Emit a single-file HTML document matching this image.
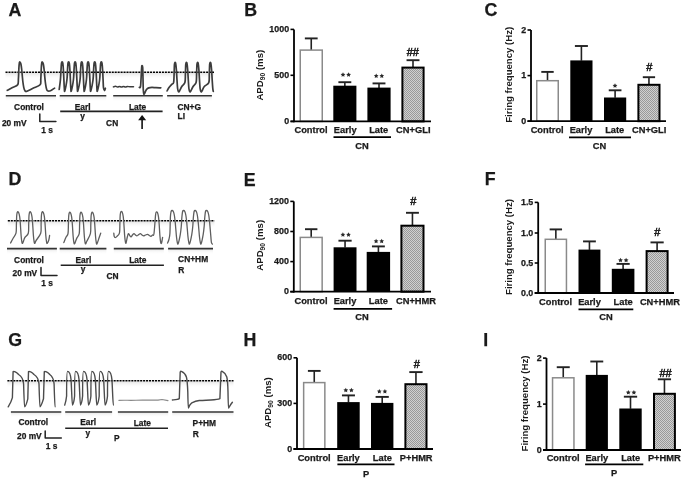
<!DOCTYPE html>
<html><head><meta charset="utf-8"><style>
html,body{margin:0;padding:0;background:#fff;width:685px;height:482px;overflow:hidden}
svg{display:block;font-family:"Liberation Sans", sans-serif;filter:blur(0.4px)}
</style></head><body>
<svg width="685" height="482" viewBox="0 0 685 482">
<defs>
<pattern id="hatch" width="2" height="2" patternUnits="userSpaceOnUse">
<rect width="2" height="2" fill="#d0d0d0"/><rect width="1" height="1" fill="#999"/><rect x="1" y="1" width="1" height="1" fill="#999"/>
</pattern>
<linearGradient id="shd" x1="0" y1="0" x2="0" y2="1"><stop offset="0" stop-color="#e4e4e4"/><stop offset="1" stop-color="#fff" stop-opacity="0"/></linearGradient>
</defs>
<rect width="685" height="482" fill="#fff"/>
<text x="8.6" y="15.8" font-size="17.8" text-anchor="start" font-weight="bold" fill="#1a1a1a"  stroke="#1a1a1a" stroke-width="0.25">A</text>
<text x="244.3" y="15.8" font-size="17.8" text-anchor="start" font-weight="bold" fill="#1a1a1a"  stroke="#1a1a1a" stroke-width="0.25">B</text>
<text x="484.6" y="15.6" font-size="17.8" text-anchor="start" font-weight="bold" fill="#1a1a1a"  stroke="#1a1a1a" stroke-width="0.25">C</text>
<text x="8.4" y="185.2" font-size="17.8" text-anchor="start" font-weight="bold" fill="#1a1a1a"  stroke="#1a1a1a" stroke-width="0.25">D</text>
<text x="243.8" y="186.2" font-size="17.8" text-anchor="start" font-weight="bold" fill="#1a1a1a"  stroke="#1a1a1a" stroke-width="0.25">E</text>
<text x="484.8" y="184.9" font-size="17.8" text-anchor="start" font-weight="bold" fill="#1a1a1a"  stroke="#1a1a1a" stroke-width="0.25">F</text>
<text x="8.2" y="346.2" font-size="17.8" text-anchor="start" font-weight="bold" fill="#1a1a1a"  stroke="#1a1a1a" stroke-width="0.25">G</text>
<text x="243.6" y="346.3" font-size="17.8" text-anchor="start" font-weight="bold" fill="#1a1a1a"  stroke="#1a1a1a" stroke-width="0.25">H</text>
<text x="483.3" y="346.1" font-size="17.8" text-anchor="start" font-weight="bold" fill="#1a1a1a"  stroke="#1a1a1a" stroke-width="0.25">I</text>
<line x1="311.25" y1="50.1" x2="311.25" y2="38.4" stroke="#222" stroke-width="1.6" />
<line x1="304.85" y1="38.4" x2="317.65" y2="38.4" stroke="#222" stroke-width="1.9" />
<rect x="300.25" y="50.1" width="22" height="71.3" fill="#fff" stroke="#8a8a8a" stroke-width="1.5"/>
<line x1="344.85" y1="86" x2="344.85" y2="82.2" stroke="#222" stroke-width="1.6" />
<line x1="338.4" y1="82.2" x2="351.3" y2="82.2" stroke="#222" stroke-width="1.9" />
<rect x="333.3" y="85.7" width="23.1" height="35.7" fill="#000"/>
<line x1="379" y1="87.9" x2="379" y2="83.4" stroke="#222" stroke-width="1.6" />
<line x1="372.55" y1="83.4" x2="385.45" y2="83.4" stroke="#222" stroke-width="1.9" />
<rect x="367.4" y="87.6" width="23.2" height="33.8" fill="#000"/>
<line x1="413" y1="67.6" x2="413" y2="60.2" stroke="#222" stroke-width="1.6" />
<line x1="406.55" y1="60.2" x2="419.45" y2="60.2" stroke="#222" stroke-width="1.9" />
<rect x="402.4" y="67.6" width="21.2" height="53.8" fill="url(#hatch)" stroke="#000" stroke-width="2"/>
<line x1="294" y1="29.4" x2="294" y2="122.3" stroke="#000" stroke-width="1.8" />
<line x1="290.5" y1="121.4" x2="431" y2="121.4" stroke="#000" stroke-width="1.8" />
<line x1="290.5" y1="29.4" x2="294" y2="29.4" stroke="#000" stroke-width="1.6" />
<text x="289.1" y="32" font-size="8.9" text-anchor="end" font-weight="bold" fill="#1a1a1a"  stroke="#1a1a1a" stroke-width="0.25">1000</text>
<line x1="290.5" y1="75.3" x2="294" y2="75.3" stroke="#000" stroke-width="1.6" />
<text x="289.1" y="77.9" font-size="8.9" text-anchor="end" font-weight="bold" fill="#1a1a1a"  stroke="#1a1a1a" stroke-width="0.25">500</text>
<line x1="290.5" y1="121.4" x2="294" y2="121.4" stroke="#000" stroke-width="1.6" />
<text x="289.1" y="124" font-size="8.9" text-anchor="end" font-weight="bold" fill="#1a1a1a"  stroke="#1a1a1a" stroke-width="0.25">0</text>
<text x="311" y="133.4" font-size="9.3" text-anchor="middle" font-weight="bold" fill="#1a1a1a"  stroke="#1a1a1a" stroke-width="0.25">Control</text>
<text x="345.2" y="133.4" font-size="9.3" text-anchor="middle" font-weight="bold" fill="#1a1a1a"  stroke="#1a1a1a" stroke-width="0.25">Early</text>
<text x="378.7" y="133.4" font-size="9.3" text-anchor="middle" font-weight="bold" fill="#1a1a1a"  stroke="#1a1a1a" stroke-width="0.25">Late</text>
<text x="413.3" y="133.4" font-size="9.3" text-anchor="middle" font-weight="bold" fill="#1a1a1a"  stroke="#1a1a1a" stroke-width="0.25">CN+GLI</text>
<line x1="333.5" y1="137.2" x2="391" y2="137.2" stroke="#000" stroke-width="1.7" />
<text x="362" y="149.3" font-size="9.3" text-anchor="middle" font-weight="bold" fill="#1a1a1a"  stroke="#1a1a1a" stroke-width="0.25">CN</text>
<text transform="translate(259.4,75.2) rotate(-90)" x="0" y="3.2" font-size="9.6" text-anchor="middle" font-weight="bold" fill="#1a1a1a">APD<tspan font-size="6.8" dy="2">90</tspan><tspan dy="-2"> (ms)</tspan></text>
<polygon points="343,72.3 343.73,73.79 345.38,74.03 344.19,75.19 344.47,76.82 343,76.05 341.53,76.82 341.81,75.19 340.62,74.03 342.27,73.79" fill="#2a2a2a"/>
<polygon points="348.6,72.3 349.33,73.79 350.98,74.03 349.79,75.19 350.07,76.82 348.6,76.05 347.13,76.82 347.41,75.19 346.22,74.03 347.87,73.79" fill="#2a2a2a"/>
<polygon points="376.2,73.4 376.93,74.89 378.58,75.13 377.39,76.29 377.67,77.92 376.2,77.15 374.73,77.92 375.01,76.29 373.82,75.13 375.47,74.89" fill="#2a2a2a"/>
<polygon points="381.8,73.4 382.53,74.89 384.18,75.13 382.99,76.29 383.27,77.92 381.8,77.15 380.33,77.92 380.61,76.29 379.42,75.13 381.07,74.89" fill="#2a2a2a"/>
<text x="412.8" y="56" font-size="11" text-anchor="middle" font-weight="normal" fill="#222" stroke="#222" stroke-width="0.55">##</text>
<line x1="547.5" y1="80.7" x2="547.5" y2="71.9" stroke="#222" stroke-width="1.6" />
<line x1="541.3" y1="71.9" x2="553.7" y2="71.9" stroke="#222" stroke-width="1.9" />
<rect x="536.75" y="80.7" width="21.5" height="40.5" fill="#fff" stroke="#8a8a8a" stroke-width="1.5"/>
<line x1="581.4" y1="60.7" x2="581.4" y2="46" stroke="#222" stroke-width="1.6" />
<line x1="574.9" y1="46" x2="587.9" y2="46" stroke="#222" stroke-width="1.9" />
<rect x="570.3" y="60.4" width="22.2" height="60.8" fill="#000"/>
<line x1="615.1" y1="97.8" x2="615.1" y2="90.3" stroke="#222" stroke-width="1.6" />
<line x1="608.75" y1="90.3" x2="621.45" y2="90.3" stroke="#222" stroke-width="1.9" />
<rect x="604" y="97.5" width="22.2" height="23.7" fill="#000"/>
<line x1="648.95" y1="84.8" x2="648.95" y2="77.2" stroke="#222" stroke-width="1.6" />
<line x1="642.8" y1="77.2" x2="655.1" y2="77.2" stroke="#222" stroke-width="1.9" />
<rect x="638.4" y="84.8" width="21.1" height="36.4" fill="url(#hatch)" stroke="#000" stroke-width="2"/>
<line x1="531" y1="30" x2="531" y2="122.1" stroke="#000" stroke-width="1.8" />
<line x1="527.5" y1="121.2" x2="666" y2="121.2" stroke="#000" stroke-width="1.8" />
<line x1="527.5" y1="30" x2="531" y2="30" stroke="#000" stroke-width="1.6" />
<text x="526.1" y="32.6" font-size="8.9" text-anchor="end" font-weight="bold" fill="#1a1a1a"  stroke="#1a1a1a" stroke-width="0.25">2</text>
<line x1="527.5" y1="75.6" x2="531" y2="75.6" stroke="#000" stroke-width="1.6" />
<text x="526.1" y="78.2" font-size="8.9" text-anchor="end" font-weight="bold" fill="#1a1a1a"  stroke="#1a1a1a" stroke-width="0.25">1</text>
<line x1="527.5" y1="121.2" x2="531" y2="121.2" stroke="#000" stroke-width="1.6" />
<text x="526.1" y="123.8" font-size="8.9" text-anchor="end" font-weight="bold" fill="#1a1a1a"  stroke="#1a1a1a" stroke-width="0.25">0</text>
<text x="547.2" y="133.4" font-size="9.3" text-anchor="middle" font-weight="bold" fill="#1a1a1a"  stroke="#1a1a1a" stroke-width="0.25">Control</text>
<text x="581" y="133.4" font-size="9.3" text-anchor="middle" font-weight="bold" fill="#1a1a1a"  stroke="#1a1a1a" stroke-width="0.25">Early</text>
<text x="614.7" y="133.4" font-size="9.3" text-anchor="middle" font-weight="bold" fill="#1a1a1a"  stroke="#1a1a1a" stroke-width="0.25">Late</text>
<text x="649.2" y="133.4" font-size="9.3" text-anchor="middle" font-weight="bold" fill="#1a1a1a"  stroke="#1a1a1a" stroke-width="0.25">CN+GLI</text>
<line x1="569" y1="137.3" x2="631" y2="137.3" stroke="#000" stroke-width="1.7" />
<text x="599.5" y="149.2" font-size="9.3" text-anchor="middle" font-weight="bold" fill="#1a1a1a"  stroke="#1a1a1a" stroke-width="0.25">CN</text>
<text transform="translate(508.6,74.8) rotate(-90)" x="0" y="3.2" font-size="9.6" text-anchor="middle" font-weight="bold" fill="#1a1a1a">Firing frequency (Hz)</text>
<polygon points="615,83.3 615.73,84.79 617.38,85.03 616.19,86.19 616.47,87.82 615,87.05 613.53,87.82 613.81,86.19 612.62,85.03 614.27,84.79" fill="#2a2a2a"/>
<text x="649.3" y="70.9" font-size="11" text-anchor="middle" font-weight="normal" fill="#222" stroke="#222" stroke-width="0.55">#</text>
<line x1="311.2" y1="237.4" x2="311.2" y2="229.2" stroke="#222" stroke-width="1.6" />
<line x1="305" y1="229.2" x2="317.4" y2="229.2" stroke="#222" stroke-width="1.9" />
<rect x="300.25" y="237.4" width="21.9" height="54.3" fill="#fff" stroke="#8a8a8a" stroke-width="1.5"/>
<line x1="345.05" y1="247.6" x2="345.05" y2="240.7" stroke="#222" stroke-width="1.6" />
<line x1="338.45" y1="240.7" x2="351.65" y2="240.7" stroke="#222" stroke-width="1.9" />
<rect x="333.6" y="247.3" width="22.9" height="44.4" fill="#000"/>
<line x1="378.4" y1="252.2" x2="378.4" y2="246.4" stroke="#222" stroke-width="1.6" />
<line x1="371.95" y1="246.4" x2="384.85" y2="246.4" stroke="#222" stroke-width="1.9" />
<rect x="366.7" y="251.9" width="23.4" height="39.8" fill="#000"/>
<line x1="412.45" y1="225.7" x2="412.45" y2="212.8" stroke="#222" stroke-width="1.6" />
<line x1="406" y1="212.8" x2="418.9" y2="212.8" stroke="#222" stroke-width="1.9" />
<rect x="401.4" y="225.7" width="22.1" height="66" fill="url(#hatch)" stroke="#000" stroke-width="2"/>
<line x1="293.8" y1="201.4" x2="293.8" y2="292.6" stroke="#000" stroke-width="1.8" />
<line x1="290.3" y1="291.7" x2="431" y2="291.7" stroke="#000" stroke-width="1.8" />
<line x1="290.3" y1="201.4" x2="293.8" y2="201.4" stroke="#000" stroke-width="1.6" />
<text x="288.9" y="204" font-size="8.9" text-anchor="end" font-weight="bold" fill="#1a1a1a"  stroke="#1a1a1a" stroke-width="0.25">1200</text>
<line x1="290.3" y1="231.5" x2="293.8" y2="231.5" stroke="#000" stroke-width="1.6" />
<text x="288.9" y="234.1" font-size="8.9" text-anchor="end" font-weight="bold" fill="#1a1a1a"  stroke="#1a1a1a" stroke-width="0.25">800</text>
<line x1="290.3" y1="261.6" x2="293.8" y2="261.6" stroke="#000" stroke-width="1.6" />
<text x="288.9" y="264.2" font-size="8.9" text-anchor="end" font-weight="bold" fill="#1a1a1a"  stroke="#1a1a1a" stroke-width="0.25">400</text>
<line x1="290.3" y1="291.7" x2="293.8" y2="291.7" stroke="#000" stroke-width="1.6" />
<text x="288.9" y="294.3" font-size="8.9" text-anchor="end" font-weight="bold" fill="#1a1a1a"  stroke="#1a1a1a" stroke-width="0.25">0</text>
<text x="311" y="303.9" font-size="9.3" text-anchor="middle" font-weight="bold" fill="#1a1a1a"  stroke="#1a1a1a" stroke-width="0.25">Control</text>
<text x="345" y="303.9" font-size="9.3" text-anchor="middle" font-weight="bold" fill="#1a1a1a"  stroke="#1a1a1a" stroke-width="0.25">Early</text>
<text x="378.4" y="303.9" font-size="9.3" text-anchor="middle" font-weight="bold" fill="#1a1a1a"  stroke="#1a1a1a" stroke-width="0.25">Late</text>
<text x="416" y="303.9" font-size="9.3" text-anchor="middle" font-weight="bold" fill="#1a1a1a"  stroke="#1a1a1a" stroke-width="0.25">CN+HMR</text>
<line x1="333.6" y1="308.9" x2="392.1" y2="308.9" stroke="#000" stroke-width="1.7" />
<text x="362" y="319.6" font-size="9.3" text-anchor="middle" font-weight="bold" fill="#1a1a1a"  stroke="#1a1a1a" stroke-width="0.25">CN</text>
<text transform="translate(259.6,245.3) rotate(-90)" x="0" y="3.2" font-size="9.6" text-anchor="middle" font-weight="bold" fill="#1a1a1a">APD<tspan font-size="6.8" dy="2">90</tspan><tspan dy="-2"> (ms)</tspan></text>
<polygon points="342.9,232.2 343.63,233.69 345.28,233.93 344.09,235.09 344.37,236.72 342.9,235.95 341.43,236.72 341.71,235.09 340.52,233.93 342.17,233.69" fill="#2a2a2a"/>
<polygon points="348.5,232.2 349.23,233.69 350.88,233.93 349.69,235.09 349.97,236.72 348.5,235.95 347.03,236.72 347.31,235.09 346.12,233.93 347.77,233.69" fill="#2a2a2a"/>
<polygon points="376.1,238.7 376.83,240.19 378.48,240.43 377.29,241.59 377.57,243.22 376.1,242.45 374.63,243.22 374.91,241.59 373.72,240.43 375.37,240.19" fill="#2a2a2a"/>
<polygon points="381.7,238.7 382.43,240.19 384.08,240.43 382.89,241.59 383.17,243.22 381.7,242.45 380.23,243.22 380.51,241.59 379.32,240.43 380.97,240.19" fill="#2a2a2a"/>
<text x="413.2" y="204.6" font-size="11" text-anchor="middle" font-weight="normal" fill="#222" stroke="#222" stroke-width="0.55">#</text>
<line x1="555.85" y1="239.3" x2="555.85" y2="229.4" stroke="#222" stroke-width="1.6" />
<line x1="549.65" y1="229.4" x2="562.05" y2="229.4" stroke="#222" stroke-width="1.9" />
<rect x="545.25" y="239.3" width="21.2" height="53.7" fill="#fff" stroke="#8a8a8a" stroke-width="1.5"/>
<line x1="589.45" y1="249.9" x2="589.45" y2="241.4" stroke="#222" stroke-width="1.6" />
<line x1="583.05" y1="241.4" x2="595.85" y2="241.4" stroke="#222" stroke-width="1.9" />
<rect x="578.5" y="249.6" width="21.9" height="43.4" fill="#000"/>
<line x1="623.1" y1="269.1" x2="623.1" y2="263.9" stroke="#222" stroke-width="1.6" />
<line x1="616.5" y1="263.9" x2="629.7" y2="263.9" stroke="#222" stroke-width="1.9" />
<rect x="611.8" y="268.8" width="22.6" height="24.2" fill="#000"/>
<line x1="657.1" y1="251.1" x2="657.1" y2="242.4" stroke="#222" stroke-width="1.6" />
<line x1="650.5" y1="242.4" x2="663.7" y2="242.4" stroke="#222" stroke-width="1.9" />
<rect x="646.6" y="251.1" width="21" height="41.9" fill="url(#hatch)" stroke="#000" stroke-width="2"/>
<line x1="538.2" y1="202.4" x2="538.2" y2="293.9" stroke="#000" stroke-width="1.8" />
<line x1="534.7" y1="293" x2="674" y2="293" stroke="#000" stroke-width="1.8" />
<line x1="534.7" y1="202.4" x2="538.2" y2="202.4" stroke="#000" stroke-width="1.6" />
<text x="533.3" y="205" font-size="8.9" text-anchor="end" font-weight="bold" fill="#1a1a1a"  stroke="#1a1a1a" stroke-width="0.25">1.5</text>
<line x1="534.7" y1="233" x2="538.2" y2="233" stroke="#000" stroke-width="1.6" />
<text x="533.3" y="235.6" font-size="8.9" text-anchor="end" font-weight="bold" fill="#1a1a1a"  stroke="#1a1a1a" stroke-width="0.25">1.0</text>
<line x1="534.7" y1="263" x2="538.2" y2="263" stroke="#000" stroke-width="1.6" />
<text x="533.3" y="265.6" font-size="8.9" text-anchor="end" font-weight="bold" fill="#1a1a1a"  stroke="#1a1a1a" stroke-width="0.25">0.5</text>
<line x1="534.7" y1="293" x2="538.2" y2="293" stroke="#000" stroke-width="1.6" />
<text x="533.3" y="295.6" font-size="8.9" text-anchor="end" font-weight="bold" fill="#1a1a1a"  stroke="#1a1a1a" stroke-width="0.25">0.0</text>
<text x="555.6" y="304.8" font-size="9.3" text-anchor="middle" font-weight="bold" fill="#1a1a1a"  stroke="#1a1a1a" stroke-width="0.25">Control</text>
<text x="589.5" y="304.8" font-size="9.3" text-anchor="middle" font-weight="bold" fill="#1a1a1a"  stroke="#1a1a1a" stroke-width="0.25">Early</text>
<text x="623.1" y="304.8" font-size="9.3" text-anchor="middle" font-weight="bold" fill="#1a1a1a"  stroke="#1a1a1a" stroke-width="0.25">Late</text>
<text x="659.9" y="304.8" font-size="9.3" text-anchor="middle" font-weight="bold" fill="#1a1a1a"  stroke="#1a1a1a" stroke-width="0.25">CN+HMR</text>
<line x1="578.5" y1="309.4" x2="633.3" y2="309.4" stroke="#000" stroke-width="1.7" />
<text x="605.9" y="320.2" font-size="9.3" text-anchor="middle" font-weight="bold" fill="#1a1a1a"  stroke="#1a1a1a" stroke-width="0.25">CN</text>
<text transform="translate(509,247) rotate(-90)" x="0" y="3.2" font-size="9.6" text-anchor="middle" font-weight="bold" fill="#1a1a1a">Firing frequency (Hz)</text>
<polygon points="620.5,257.8 621.23,259.29 622.88,259.53 621.69,260.69 621.97,262.32 620.5,261.55 619.03,262.32 619.31,260.69 618.12,259.53 619.77,259.29" fill="#2a2a2a"/>
<polygon points="626.1,257.8 626.83,259.29 628.48,259.53 627.29,260.69 627.57,262.32 626.1,261.55 624.63,262.32 624.91,260.69 623.72,259.53 625.37,259.29" fill="#2a2a2a"/>
<text x="657.2" y="236" font-size="11" text-anchor="middle" font-weight="normal" fill="#222" stroke="#222" stroke-width="0.55">#</text>
<line x1="314.25" y1="382.6" x2="314.25" y2="370.9" stroke="#222" stroke-width="1.6" />
<line x1="307.9" y1="370.9" x2="320.6" y2="370.9" stroke="#222" stroke-width="1.9" />
<rect x="303.65" y="382.6" width="21.2" height="66.4" fill="#fff" stroke="#8a8a8a" stroke-width="1.5"/>
<line x1="348.45" y1="402.4" x2="348.45" y2="395.4" stroke="#222" stroke-width="1.6" />
<line x1="341.95" y1="395.4" x2="354.95" y2="395.4" stroke="#222" stroke-width="1.9" />
<rect x="337.2" y="402.1" width="22.5" height="46.9" fill="#000"/>
<line x1="382.2" y1="403.2" x2="382.2" y2="396.9" stroke="#222" stroke-width="1.6" />
<line x1="375.6" y1="396.9" x2="388.8" y2="396.9" stroke="#222" stroke-width="1.9" />
<rect x="371" y="402.9" width="22.4" height="46.1" fill="#000"/>
<line x1="415.95" y1="384.2" x2="415.95" y2="372.1" stroke="#222" stroke-width="1.6" />
<line x1="409.3" y1="372.1" x2="422.6" y2="372.1" stroke="#222" stroke-width="1.9" />
<rect x="405.4" y="384.2" width="21.1" height="64.8" fill="url(#hatch)" stroke="#000" stroke-width="2"/>
<line x1="297" y1="357.8" x2="297" y2="449.9" stroke="#000" stroke-width="1.8" />
<line x1="293.5" y1="449" x2="433" y2="449" stroke="#000" stroke-width="1.8" />
<line x1="293.5" y1="357.8" x2="297" y2="357.8" stroke="#000" stroke-width="1.6" />
<text x="292.1" y="360.4" font-size="8.9" text-anchor="end" font-weight="bold" fill="#1a1a1a"  stroke="#1a1a1a" stroke-width="0.25">600</text>
<line x1="293.5" y1="403.4" x2="297" y2="403.4" stroke="#000" stroke-width="1.6" />
<text x="292.1" y="406" font-size="8.9" text-anchor="end" font-weight="bold" fill="#1a1a1a"  stroke="#1a1a1a" stroke-width="0.25">300</text>
<line x1="293.5" y1="449" x2="297" y2="449" stroke="#000" stroke-width="1.6" />
<text x="292.1" y="451.6" font-size="8.9" text-anchor="end" font-weight="bold" fill="#1a1a1a"  stroke="#1a1a1a" stroke-width="0.25">0</text>
<text x="314.2" y="461" font-size="9.3" text-anchor="middle" font-weight="bold" fill="#1a1a1a"  stroke="#1a1a1a" stroke-width="0.25">Control</text>
<text x="348.4" y="461" font-size="9.3" text-anchor="middle" font-weight="bold" fill="#1a1a1a"  stroke="#1a1a1a" stroke-width="0.25">Early</text>
<text x="382.4" y="461" font-size="9.3" text-anchor="middle" font-weight="bold" fill="#1a1a1a"  stroke="#1a1a1a" stroke-width="0.25">Late</text>
<text x="416.2" y="461" font-size="9.3" text-anchor="middle" font-weight="bold" fill="#1a1a1a"  stroke="#1a1a1a" stroke-width="0.25">P+HMR</text>
<line x1="337.4" y1="464.4" x2="394.5" y2="464.4" stroke="#000" stroke-width="1.7" />
<text x="366" y="476.5" font-size="9.3" text-anchor="middle" font-weight="bold" fill="#1a1a1a"  stroke="#1a1a1a" stroke-width="0.25">P</text>
<text transform="translate(267.6,402.6) rotate(-90)" x="0" y="3.2" font-size="9.6" text-anchor="middle" font-weight="bold" fill="#1a1a1a">APD<tspan font-size="6.8" dy="2">90</tspan><tspan dy="-2"> (ms)</tspan></text>
<polygon points="345.8,387.8 346.53,389.29 348.18,389.53 346.99,390.69 347.27,392.32 345.8,391.55 344.33,392.32 344.61,390.69 343.42,389.53 345.07,389.29" fill="#2a2a2a"/>
<polygon points="351.4,387.8 352.13,389.29 353.78,389.53 352.59,390.69 352.87,392.32 351.4,391.55 349.93,392.32 350.21,390.69 349.02,389.53 350.67,389.29" fill="#2a2a2a"/>
<polygon points="379.3,388.9 380.03,390.39 381.68,390.63 380.49,391.79 380.77,393.42 379.3,392.65 377.83,393.42 378.11,391.79 376.92,390.63 378.57,390.39" fill="#2a2a2a"/>
<polygon points="384.9,388.9 385.63,390.39 387.28,390.63 386.09,391.79 386.37,393.42 384.9,392.65 383.43,393.42 383.71,391.79 382.52,390.63 384.17,390.39" fill="#2a2a2a"/>
<text x="416.9" y="368.2" font-size="11" text-anchor="middle" font-weight="normal" fill="#222" stroke="#222" stroke-width="0.55">#</text>
<line x1="563.25" y1="377.8" x2="563.25" y2="367.2" stroke="#222" stroke-width="1.6" />
<line x1="556.75" y1="367.2" x2="569.75" y2="367.2" stroke="#222" stroke-width="1.9" />
<rect x="552.55" y="377.8" width="21.4" height="72.2" fill="#fff" stroke="#8a8a8a" stroke-width="1.5"/>
<line x1="596.8" y1="375.2" x2="596.8" y2="361.5" stroke="#222" stroke-width="1.6" />
<line x1="590.35" y1="361.5" x2="603.25" y2="361.5" stroke="#222" stroke-width="1.9" />
<rect x="585.7" y="374.9" width="22.2" height="75.1" fill="#000"/>
<line x1="630.5" y1="408.8" x2="630.5" y2="396.7" stroke="#222" stroke-width="1.6" />
<line x1="623.85" y1="396.7" x2="637.15" y2="396.7" stroke="#222" stroke-width="1.9" />
<rect x="619.3" y="408.5" width="22.4" height="41.5" fill="#000"/>
<line x1="664.45" y1="393.8" x2="664.45" y2="379.3" stroke="#222" stroke-width="1.6" />
<line x1="657.85" y1="379.3" x2="671.05" y2="379.3" stroke="#222" stroke-width="1.9" />
<rect x="654" y="393.8" width="20.9" height="56.2" fill="url(#hatch)" stroke="#000" stroke-width="2"/>
<line x1="546.5" y1="358.1" x2="546.5" y2="450.9" stroke="#000" stroke-width="1.8" />
<line x1="543" y1="450" x2="681" y2="450" stroke="#000" stroke-width="1.8" />
<line x1="543" y1="358.1" x2="546.5" y2="358.1" stroke="#000" stroke-width="1.6" />
<text x="541.6" y="360.7" font-size="8.9" text-anchor="end" font-weight="bold" fill="#1a1a1a"  stroke="#1a1a1a" stroke-width="0.25">2</text>
<line x1="543" y1="404.1" x2="546.5" y2="404.1" stroke="#000" stroke-width="1.6" />
<text x="541.6" y="406.7" font-size="8.9" text-anchor="end" font-weight="bold" fill="#1a1a1a"  stroke="#1a1a1a" stroke-width="0.25">1</text>
<line x1="543" y1="450" x2="546.5" y2="450" stroke="#000" stroke-width="1.6" />
<text x="541.6" y="452.6" font-size="8.9" text-anchor="end" font-weight="bold" fill="#1a1a1a"  stroke="#1a1a1a" stroke-width="0.25">0</text>
<text x="563.2" y="460.9" font-size="9.3" text-anchor="middle" font-weight="bold" fill="#1a1a1a"  stroke="#1a1a1a" stroke-width="0.25">Control</text>
<text x="596.8" y="460.9" font-size="9.3" text-anchor="middle" font-weight="bold" fill="#1a1a1a"  stroke="#1a1a1a" stroke-width="0.25">Early</text>
<text x="630.7" y="460.9" font-size="9.3" text-anchor="middle" font-weight="bold" fill="#1a1a1a"  stroke="#1a1a1a" stroke-width="0.25">Late</text>
<text x="664.3" y="460.9" font-size="9.3" text-anchor="middle" font-weight="bold" fill="#1a1a1a"  stroke="#1a1a1a" stroke-width="0.25">P+HMR</text>
<line x1="585.1" y1="464.3" x2="643.3" y2="464.3" stroke="#000" stroke-width="1.7" />
<text x="614.2" y="476" font-size="9.3" text-anchor="middle" font-weight="bold" fill="#1a1a1a"  stroke="#1a1a1a" stroke-width="0.25">P</text>
<text transform="translate(524.6,403.5) rotate(-90)" x="0" y="3.2" font-size="9.6" text-anchor="middle" font-weight="bold" fill="#1a1a1a">Firing frequency (Hz)</text>
<polygon points="628.3,390 629.03,391.49 630.68,391.73 629.49,392.89 629.77,394.52 628.3,393.75 626.83,394.52 627.11,392.89 625.92,391.73 627.57,391.49" fill="#2a2a2a"/>
<polygon points="633.9,390 634.63,391.49 636.28,391.73 635.09,392.89 635.37,394.52 633.9,393.75 632.43,394.52 632.71,392.89 631.52,391.73 633.17,391.49" fill="#2a2a2a"/>
<text x="665.6" y="376.6" font-size="11" text-anchor="middle" font-weight="normal" fill="#222" stroke="#222" stroke-width="0.55">##</text>
<rect x="5.5" y="72.9" width="208.5" height="6.5" fill="url(#shd)" opacity="1"/>
<line x1="5.5" y1="72.2" x2="214" y2="72.2" stroke="#000" stroke-width="1.4" stroke-dasharray="2.1 0.85"/>
<path d="M7.3,90.3 C8.17,89.85 10.77,88.52 12.5,87.6 C14.23,86.68 16.72,86.23 17.7,84.8 C18.68,83.37 18.2,81.8 18.4,79 C18.6,76.2 18.73,70.73 18.9,68 C19.07,65.27 19.22,63.57 19.4,62.6 C19.58,61.63 19.75,61.97 20,62.2 C20.25,62.43 20.62,62.78 20.9,64 C21.18,65.22 21.47,67.5 21.7,69.5 C21.93,71.5 22.1,73.92 22.3,76 C22.5,78.08 22.65,80.07 22.9,82 C23.15,83.93 23.47,86.17 23.8,87.6 C24.13,89.03 24.43,89.97 24.9,90.6 C25.37,91.23 25.25,91.78 26.6,91.4 C27.95,91.02 30.75,89.4 33,88.3 C35.25,87.2 38.8,86.35 40.1,84.8 C41.4,83.25 40.6,81.8 40.8,79 C41,76.2 41.13,70.73 41.3,68 C41.47,65.27 41.62,63.57 41.8,62.6 C41.98,61.63 42.15,61.97 42.4,62.2 C42.65,62.43 43.02,62.78 43.3,64 C43.58,65.22 43.87,67.5 44.1,69.5 C44.33,71.5 44.5,73.92 44.7,76 C44.9,78.08 45.05,80.07 45.3,82 C45.55,83.93 45.87,86.17 46.2,87.6 C46.53,89.03 46.58,90.07 47.3,90.6 C48.02,91.13 49.28,91.22 50.5,90.8 C51.72,90.38 53.92,88.55 54.6,88.1" fill="none" stroke="#3c3c3c" stroke-width="1.7" stroke-linejoin="round" stroke-linecap="round" />
<path d="M59.2,89.5 C59.4,87.92 60.1,83.25 60.4,80 C60.7,76.75 60.82,72.8 61,70 C61.18,67.2 61.32,64.55 61.5,63.2 C61.68,61.85 61.88,61.9 62.1,61.9 C62.32,61.9 62.58,61.85 62.8,63.2 C63.02,64.55 63.22,67.2 63.4,70 C63.58,72.8 63.75,77 63.9,80 C64.05,83 64.15,86.18 64.3,88 C64.45,89.82 64.37,92.23 64.8,90.9 C65.23,89.57 66.45,83.48 66.9,80 C67.35,76.52 67.32,72.8 67.5,70 C67.68,67.2 67.82,64.55 68,63.2 C68.18,61.85 68.38,61.9 68.6,61.9 C68.82,61.9 69.08,61.85 69.3,63.2 C69.52,64.55 69.72,67.2 69.9,70 C70.08,72.8 70.25,77 70.4,80 C70.55,83 70.65,86.18 70.8,88 C70.95,89.82 70.87,92.23 71.3,90.9 C71.73,89.57 72.95,83.48 73.4,80 C73.85,76.52 73.82,72.8 74,70 C74.18,67.2 74.32,64.55 74.5,63.2 C74.68,61.85 74.88,61.9 75.1,61.9 C75.32,61.9 75.58,61.85 75.8,63.2 C76.02,64.55 76.22,67.2 76.4,70 C76.58,72.8 76.75,77 76.9,80 C77.05,83 77.15,86.18 77.3,88 C77.45,89.82 77.35,92.23 77.8,90.9 C78.25,89.57 79.53,83.48 80,80 C80.47,76.52 80.42,72.8 80.6,70 C80.78,67.2 80.92,64.55 81.1,63.2 C81.28,61.85 81.48,61.9 81.7,61.9 C81.92,61.9 82.18,61.85 82.4,63.2 C82.62,64.55 82.82,67.2 83,70 C83.18,72.8 83.35,77 83.5,80 C83.65,83 83.75,86.18 83.9,88 C84.05,89.82 83.98,92.23 84.4,90.9 C84.82,89.57 85.97,83.48 86.4,80 C86.83,76.52 86.82,72.8 87,70 C87.18,67.2 87.32,64.55 87.5,63.2 C87.68,61.85 87.88,61.9 88.1,61.9 C88.32,61.9 88.58,61.85 88.8,63.2 C89.02,64.55 89.22,67.2 89.4,70 C89.58,72.8 89.75,77 89.9,80 C90.05,83 90.15,86.18 90.3,88 C90.45,89.82 90.35,92.23 90.8,90.9 C91.25,89.57 92.53,83.48 93,80 C93.47,76.52 93.42,72.8 93.6,70 C93.78,67.2 93.92,64.55 94.1,63.2 C94.28,61.85 94.48,61.9 94.7,61.9 C94.92,61.9 95.18,61.85 95.4,63.2 C95.62,64.55 95.82,67.2 96,70 C96.18,72.8 96.35,77 96.5,80 C96.65,83 96.75,86.18 96.9,88 C97.05,89.82 96.95,92.23 97.4,90.9 C97.85,89.57 99.13,83.48 99.6,80 C100.07,76.52 100.02,72.8 100.2,70 C100.38,67.2 100.52,64.55 100.7,63.2 C100.88,61.85 101.08,61.9 101.3,61.9 C101.52,61.9 101.78,61.85 102,63.2 C102.22,64.55 102.42,67.2 102.6,70 C102.78,72.8 102.95,77 103.1,80 C103.25,83 103.25,86.23 103.5,88 C103.75,89.77 104.28,90.57 104.6,90.6 C104.92,90.63 105.27,88.6 105.4,88.2" fill="none" stroke="#3c3c3c" stroke-width="1.7" stroke-linejoin="round" stroke-linecap="round" />
<path d="M113.4,86.9 C113.75,86.8 114.82,86.27 115.5,86.3 C116.18,86.33 116.83,87.07 117.5,87.1 C118.17,87.13 118.83,86.5 119.5,86.5 C120.17,86.5 120.83,87.12 121.5,87.1 C122.17,87.08 122.83,86.42 123.5,86.4 C124.17,86.38 124.83,86.98 125.5,87 C126.17,87.02 126.75,86.53 127.5,86.5 C128.25,86.47 129,86.75 130,86.8 C131,86.85 132.92,86.8 133.5,86.8" fill="none" stroke="#3c3c3c" stroke-width="1.5" stroke-linejoin="round" stroke-linecap="round" />
<path d="M139.3,87.4 C139.5,87.27 140.18,88.5 140.5,86.6 C140.82,84.7 141,79.27 141.2,76 C141.4,72.73 141.53,68.72 141.7,67 C141.87,65.28 142.03,65.62 142.2,65.7 C142.37,65.78 142.57,65.45 142.7,67.5 C142.83,69.55 142.9,74.25 143,78 C143.1,81.75 143.15,87.3 143.3,90 C143.45,92.7 143.62,93.78 143.9,94.2 C144.18,94.62 144.57,93.28 145,92.5 C145.43,91.72 145.87,90.27 146.5,89.5 C147.13,88.73 147.88,88.25 148.8,87.9 C149.72,87.55 150.8,87.43 152,87.4 C153.2,87.37 154.53,87.63 156,87.7 C157.47,87.77 160,87.78 160.8,87.8" fill="none" stroke="#3c3c3c" stroke-width="1.7" stroke-linejoin="round" stroke-linecap="round" />
<path d="M167.1,90.9 C167.42,90.35 168.27,88.65 169,87.6 C169.73,86.55 170.73,85.43 171.5,84.6 C172.27,83.77 173.17,84.37 173.6,82.6 C174.03,80.83 173.96,77.02 174.1,74 C174.24,70.98 174.3,66.43 174.45,64.5 C174.6,62.57 174.79,62.55 175,62.4 C175.21,62.25 175.47,62.33 175.7,63.6 C175.93,64.87 176.18,67.27 176.4,70 C176.62,72.73 176.8,76.92 177,80 C177.2,83.08 177.35,86.55 177.6,88.5 C177.85,90.45 178.17,91.32 178.5,91.7 C178.83,92.08 179.05,91.67 179.6,90.8 C180.15,89.93 180.92,87.87 181.8,86.5 C182.68,85.13 184.3,84.68 184.9,82.6 C185.5,80.52 185.26,77.02 185.4,74 C185.54,70.98 185.6,66.43 185.75,64.5 C185.9,62.57 186.09,62.55 186.3,62.4 C186.51,62.25 186.77,62.33 187,63.6 C187.23,64.87 187.48,67.27 187.7,70 C187.92,72.73 188.1,76.92 188.3,80 C188.5,83.08 188.65,86.55 188.9,88.5 C189.15,90.45 189.47,91.32 189.8,91.7 C190.13,92.08 190.35,91.67 190.9,90.8 C191.45,89.93 192.23,87.87 193.1,86.5 C193.97,85.13 195.52,84.68 196.1,82.6 C196.68,80.52 196.46,77.02 196.6,74 C196.74,70.98 196.8,66.43 196.95,64.5 C197.1,62.57 197.29,62.55 197.5,62.4 C197.71,62.25 197.97,62.33 198.2,63.6 C198.43,64.87 198.68,67.27 198.9,70 C199.12,72.73 199.3,76.92 199.5,80 C199.7,83.08 199.85,86.55 200.1,88.5 C200.35,90.45 200.67,91.32 201,91.7 C201.33,92.08 201.55,91.67 202.1,90.8 C202.65,89.93 203.18,87.87 204.3,86.5 C205.42,85.13 207.97,84.68 208.8,82.6 C209.63,80.52 209.16,77.02 209.3,74 C209.44,70.98 209.5,66.43 209.65,64.5 C209.8,62.57 209.99,62.55 210.2,62.4 C210.41,62.25 210.67,62.33 210.9,63.6 C211.13,64.87 211.38,67.27 211.6,70 C211.82,72.73 212,76.92 212.2,80 C212.4,83.08 212.62,86.6 212.8,88.5 C212.98,90.4 213.22,90.92 213.3,91.4" fill="none" stroke="#3c3c3c" stroke-width="1.7" stroke-linejoin="round" stroke-linecap="round" />
<rect x="5.8" y="96.6" width="50.2" height="5" fill="url(#shd)" opacity="0.8"/>
<line x1="5.8" y1="95.8" x2="56" y2="95.8" stroke="#333" stroke-width="1.6" />
<rect x="59.7" y="96.6" width="46.6" height="5" fill="url(#shd)" opacity="0.8"/>
<line x1="59.7" y1="95.8" x2="106.3" y2="95.8" stroke="#333" stroke-width="1.6" />
<rect x="113.2" y="96.6" width="49.6" height="5" fill="url(#shd)" opacity="0.8"/>
<line x1="113.2" y1="95.8" x2="162.8" y2="95.8" stroke="#333" stroke-width="1.6" />
<rect x="167.1" y="96.6" width="44.8" height="5" fill="url(#shd)" opacity="0.8"/>
<line x1="167.1" y1="95.8" x2="211.9" y2="95.8" stroke="#333" stroke-width="1.6" />
<text x="14.1" y="109.8" font-size="8.4" text-anchor="start" font-weight="bold" fill="#1a1a1a"  stroke="#1a1a1a" stroke-width="0.25">Control</text>
<text x="74.7" y="109.8" font-size="8.4" text-anchor="start" font-weight="bold" fill="#1a1a1a"  stroke="#1a1a1a" stroke-width="0.25">Earl</text>
<text x="80.3" y="119.2" font-size="8.4" text-anchor="start" font-weight="bold" fill="#1a1a1a"  stroke="#1a1a1a" stroke-width="0.25">y</text>
<text x="128.9" y="109.6" font-size="8.4" text-anchor="start" font-weight="bold" fill="#1a1a1a"  stroke="#1a1a1a" stroke-width="0.25">Late</text>
<text x="177.5" y="109.6" font-size="8.4" text-anchor="start" font-weight="bold" fill="#1a1a1a"  stroke="#1a1a1a" stroke-width="0.25">CN+G</text>
<text x="177.6" y="119.2" font-size="8.4" text-anchor="start" font-weight="bold" fill="#1a1a1a"  stroke="#1a1a1a" stroke-width="0.25">LI</text>
<text x="106.1" y="125.5" font-size="8.4" text-anchor="start" font-weight="bold" fill="#1a1a1a"  stroke="#1a1a1a" stroke-width="0.25">CN</text>
<text x="1.9" y="125.5" font-size="8.4" text-anchor="start" font-weight="bold" fill="#1a1a1a"  stroke="#1a1a1a" stroke-width="0.25">20 mV</text>
<text x="41.2" y="132.7" font-size="8.4" text-anchor="start" font-weight="bold" fill="#1a1a1a"  stroke="#1a1a1a" stroke-width="0.25">1 s</text>
<line x1="60.2" y1="111.4" x2="162.6" y2="111.4" stroke="#222" stroke-width="1.6" />
<path d="M39.8,114 L39.8,121.5 L55.9,121.5" fill="none" stroke="#222" stroke-width="1.5" stroke-linejoin="round" stroke-linecap="round" />
<line x1="142.1" y1="119.5" x2="142.1" y2="129" stroke="#111" stroke-width="1.6" />
<path d="M142.1,115 L146.2,120.2 L138.1,120.2 Z" fill="#111"/>
<rect x="7.8" y="221.4" width="206.7" height="6.5" fill="url(#shd)" opacity="1"/>
<line x1="7.8" y1="220.7" x2="214.5" y2="220.7" stroke="#000" stroke-width="1.4" stroke-dasharray="2.1 0.85"/>
<path d="M10.6,243 C11,242.25 12.1,240.13 13,238.5 C13.9,236.87 15.43,235.62 16,233.2 C16.57,230.78 16.28,227.03 16.4,224 C16.53,220.97 16.55,217.03 16.75,215 C16.95,212.97 17.26,212.15 17.6,211.8 C17.94,211.45 18.45,212.07 18.8,212.9 C19.15,213.73 19.44,215 19.7,216.8 C19.96,218.6 20.12,220.58 20.35,223.7 C20.58,226.82 20.84,232.42 21.1,235.5 C21.36,238.58 21.65,240.9 21.9,242.2 C22.15,243.5 22.32,243.53 22.6,243.3 C22.88,243.07 23.23,241.75 23.6,240.8 C23.97,239.85 24.02,238.87 24.8,237.6 C25.58,236.33 27.65,235.47 28.3,233.2 C28.95,230.93 28.57,227.03 28.7,224 C28.82,220.97 28.85,217.03 29.05,215 C29.25,212.97 29.56,212.15 29.9,211.8 C30.24,211.45 30.75,212.07 31.1,212.9 C31.45,213.73 31.74,215 32,216.8 C32.26,218.6 32.42,220.58 32.65,223.7 C32.88,226.82 33.14,232.42 33.4,235.5 C33.66,238.58 33.95,240.9 34.2,242.2 C34.45,243.5 34.62,243.53 34.9,243.3 C35.18,243.07 34.93,242.48 35.9,240.8 C36.87,239.12 39.83,236 40.7,233.2 C41.57,230.4 40.97,227.03 41.1,224 C41.22,220.97 41.25,217.03 41.45,215 C41.65,212.97 41.96,212.15 42.3,211.8 C42.64,211.45 43.15,212.07 43.5,212.9 C43.85,213.73 44.14,215 44.4,216.8 C44.66,218.6 44.82,220.58 45.05,223.7 C45.28,226.82 45.54,232.42 45.8,235.5 C46.06,238.58 46.35,240.9 46.6,242.2 C46.85,243.5 46.93,243.67 47.3,243.3 C47.67,242.93 48.42,241.3 48.8,240 C49.18,238.7 49.47,236.25 49.6,235.5" fill="none" stroke="#5e5e5e" stroke-width="1.3" stroke-linejoin="round" stroke-linecap="round" />
<path d="M63.8,242.6 C64.17,241.7 65.3,238.68 66,237.2 C66.7,235.72 67.6,235.82 68,233.7 C68.4,231.58 68.27,227.53 68.4,224.5 C68.52,221.47 68.55,217.53 68.75,215.5 C68.95,213.47 69.26,212.65 69.6,212.3 C69.94,211.95 70.45,212.57 70.8,213.4 C71.15,214.23 71.44,215.5 71.7,217.3 C71.96,219.1 72.12,221.08 72.35,224.2 C72.58,227.32 72.84,232.92 73.1,236 C73.36,239.08 73.65,241.4 73.9,242.7 C74.15,244 74.32,244.03 74.6,243.8 C74.88,243.57 75.23,242.25 75.6,241.3 C75.97,240.35 76.2,239.37 76.8,238.1 C77.4,236.83 78.73,235.97 79.2,233.7 C79.67,231.43 79.47,227.53 79.6,224.5 C79.72,221.47 79.75,217.53 79.95,215.5 C80.15,213.47 80.46,212.65 80.8,212.3 C81.14,211.95 81.65,212.57 82,213.4 C82.35,214.23 82.64,215.5 82.9,217.3 C83.16,219.1 83.32,221.08 83.55,224.2 C83.78,227.32 84.04,232.92 84.3,236 C84.56,239.08 84.85,241.4 85.1,242.7 C85.35,244 85.52,244.03 85.8,243.8 C86.08,243.57 86.03,242.98 86.8,241.3 C87.57,239.62 89.73,236.5 90.4,233.7 C91.07,230.9 90.67,227.53 90.8,224.5 C90.92,221.47 90.95,217.53 91.15,215.5 C91.35,213.47 91.66,212.65 92,212.3 C92.34,211.95 92.85,212.57 93.2,213.4 C93.55,214.23 93.84,215.5 94.1,217.3 C94.36,219.1 94.52,221.08 94.75,224.2 C94.98,227.32 95.24,232.92 95.5,236 C95.76,239.08 96.05,241.4 96.3,242.7 C96.55,244 96.52,244.67 97,243.8 C97.48,242.93 98.58,239.27 99.2,237.5 C99.82,235.73 100.45,233.92 100.7,233.2" fill="none" stroke="#5e5e5e" stroke-width="1.3" stroke-linejoin="round" stroke-linecap="round" />
<path d="M113.8,233.2 C113.87,233.73 113.97,235.67 114.2,236.4 C114.43,237.13 114.73,237.6 115.2,237.6 C115.67,237.6 116.28,237.2 117,236.4 C117.72,235.6 119.02,234.93 119.5,232.8 C119.98,230.67 119.77,226.63 119.9,223.6 C120.02,220.57 120.05,216.63 120.25,214.6 C120.45,212.57 120.76,211.75 121.1,211.4 C121.44,211.05 121.95,211.67 122.3,212.5 C122.65,213.33 122.94,214.6 123.2,216.4 C123.46,218.2 123.62,220.18 123.85,223.3 C124.08,226.42 124.34,232.02 124.6,235.1 C124.86,238.18 125.15,240.5 125.4,241.8 C125.65,243.1 125.78,243.7 126.1,242.9 C126.42,242.1 126.92,238.55 127.3,237 C127.68,235.45 128,233.85 128.4,233.6 C128.8,233.35 129.27,234.95 129.7,235.5 C130.13,236.05 130.53,236.98 131,236.9 C131.47,236.82 132,235.55 132.5,235 C133,234.45 133.5,233.6 134,233.6 C134.5,233.6 135,234.63 135.5,235 C136,235.37 136.47,235.87 137,235.8 C137.53,235.73 138.13,234.95 138.7,234.6 C139.27,234.25 139.85,233.63 140.4,233.7 C140.95,233.77 141.47,234.65 142,235 C142.53,235.35 143.02,235.8 143.6,235.8 C144.18,235.8 144.83,235.25 145.5,235 C146.17,234.75 146.97,234.22 147.6,234.3 C148.23,234.38 148.75,235.17 149.3,235.5 C149.85,235.83 150.37,236.38 150.9,236.3 C151.43,236.22 151.98,235.47 152.5,235 C153.02,234.53 153.49,236.82 154,233.5 C154.51,230.18 155.15,218.7 155.55,215.1 C155.95,211.5 156.06,212.25 156.4,211.9 C156.74,211.55 157.25,212.17 157.6,213 C157.95,213.83 158.24,215.1 158.5,216.9 C158.76,218.7 158.92,220.68 159.15,223.8 C159.38,226.92 159.64,232.52 159.9,235.6 C160.16,238.68 160.45,241 160.7,242.3 C160.95,243.6 161.18,243.62 161.4,243.4 C161.62,243.18 161.8,242 162,241 C162.2,240 162.5,238 162.6,237.4" fill="none" stroke="#5e5e5e" stroke-width="1.3" stroke-linejoin="round" stroke-linecap="round" />
<path d="M167.5,243.1 C167.73,242.5 168.5,241.1 168.9,239.5 C169.3,237.9 169.65,237.25 169.9,233.5 C170.15,229.75 170.2,220.67 170.4,217 C170.6,213.33 170.82,212.58 171.1,211.5 C171.38,210.42 171.73,210.5 172.1,210.5 C172.47,210.5 172.93,210.75 173.3,211.5 C173.67,212.25 174,213.42 174.3,215 C174.6,216.58 174.85,218.67 175.1,221 C175.35,223.33 175.57,226.33 175.8,229 C176.03,231.67 176.25,234.77 176.5,237 C176.75,239.23 177.02,241.3 177.3,242.4 C177.58,243.5 177.7,244.95 178.2,243.6 C178.7,242.25 179.78,237.23 180.3,234.3 C180.82,231.37 181.03,228.88 181.3,226 C181.57,223.12 181.68,219.42 181.9,217 C182.12,214.58 182.32,212.58 182.6,211.5 C182.88,210.42 183.23,210.5 183.6,210.5 C183.97,210.5 184.43,210.75 184.8,211.5 C185.17,212.25 185.5,213.42 185.8,215 C186.1,216.58 186.35,218.67 186.6,221 C186.85,223.33 187.07,226.33 187.3,229 C187.53,231.67 187.75,234.77 188,237 C188.25,239.23 188.52,241.3 188.8,242.4 C189.08,243.5 189.2,244.95 189.7,243.6 C190.2,242.25 191.28,237.23 191.8,234.3 C192.32,231.37 192.53,228.88 192.8,226 C193.07,223.12 193.18,219.42 193.4,217 C193.62,214.58 193.82,212.58 194.1,211.5 C194.38,210.42 194.73,210.5 195.1,210.5 C195.47,210.5 195.93,210.75 196.3,211.5 C196.67,212.25 197,213.42 197.3,215 C197.6,216.58 197.85,218.67 198.1,221 C198.35,223.33 198.57,226.33 198.8,229 C199.03,231.67 199.25,234.77 199.5,237 C199.75,239.23 200.02,241.3 200.3,242.4 C200.58,243.5 200.72,244.95 201.2,243.6 C201.68,242.25 202.7,237.23 203.2,234.3 C203.7,231.37 203.93,228.88 204.2,226 C204.47,223.12 204.58,219.42 204.8,217 C205.02,214.58 205.22,212.58 205.5,211.5 C205.78,210.42 206.13,210.5 206.5,210.5 C206.87,210.5 207.33,210.75 207.7,211.5 C208.07,212.25 208.4,213.42 208.7,215 C209,216.58 209.25,218.67 209.5,221 C209.75,223.33 209.97,226.33 210.2,229 C210.43,231.67 210.7,234.77 210.9,237 C211.1,239.23 211.15,241.22 211.4,242.4 C211.65,243.58 212.23,243.82 212.4,244.1" fill="none" stroke="#5e5e5e" stroke-width="1.3" stroke-linejoin="round" stroke-linecap="round" />
<rect x="7" y="249.4" width="49.9" height="5" fill="url(#shd)" opacity="0.8"/>
<line x1="7" y1="248.6" x2="56.9" y2="248.6" stroke="#333" stroke-width="1.6" />
<rect x="59.7" y="249.4" width="46.7" height="5" fill="url(#shd)" opacity="0.8"/>
<line x1="59.7" y1="248.6" x2="106.4" y2="248.6" stroke="#333" stroke-width="1.6" />
<rect x="113.8" y="249.4" width="50" height="5" fill="url(#shd)" opacity="0.8"/>
<line x1="113.8" y1="248.6" x2="163.8" y2="248.6" stroke="#333" stroke-width="1.6" />
<rect x="168.1" y="249.4" width="44.9" height="5" fill="url(#shd)" opacity="0.8"/>
<line x1="168.1" y1="248.6" x2="213" y2="248.6" stroke="#333" stroke-width="1.6" />
<text x="14.1" y="262.7" font-size="8.4" text-anchor="start" font-weight="bold" fill="#1a1a1a"  stroke="#1a1a1a" stroke-width="0.25">Control</text>
<text x="75.5" y="262.7" font-size="8.4" text-anchor="start" font-weight="bold" fill="#1a1a1a"  stroke="#1a1a1a" stroke-width="0.25">Earl</text>
<text x="80.8" y="272.3" font-size="8.4" text-anchor="start" font-weight="bold" fill="#1a1a1a"  stroke="#1a1a1a" stroke-width="0.25">y</text>
<text x="129.2" y="262.7" font-size="8.4" text-anchor="start" font-weight="bold" fill="#1a1a1a"  stroke="#1a1a1a" stroke-width="0.25">Late</text>
<text x="178.1" y="262.4" font-size="8.4" text-anchor="start" font-weight="bold" fill="#1a1a1a"  stroke="#1a1a1a" stroke-width="0.25">CN+HM</text>
<text x="178.2" y="272.6" font-size="8.4" text-anchor="start" font-weight="bold" fill="#1a1a1a"  stroke="#1a1a1a" stroke-width="0.25">R</text>
<text x="106.4" y="278.7" font-size="8.4" text-anchor="start" font-weight="bold" fill="#1a1a1a"  stroke="#1a1a1a" stroke-width="0.25">CN</text>
<text x="12.5" y="276.3" font-size="8.4" text-anchor="start" font-weight="bold" fill="#1a1a1a"  stroke="#1a1a1a" stroke-width="0.25">20 mV</text>
<text x="41.3" y="286.4" font-size="8.4" text-anchor="start" font-weight="bold" fill="#1a1a1a"  stroke="#1a1a1a" stroke-width="0.25">1 s</text>
<line x1="60.7" y1="265.2" x2="163.9" y2="265.2" stroke="#222" stroke-width="1.6" />
<path d="M41,267.5 L41,275.5 L57,275.5" fill="none" stroke="#222" stroke-width="1.5" stroke-linejoin="round" stroke-linecap="round" />
<rect x="7.4" y="381.5" width="226.1" height="6.5" fill="url(#shd)" opacity="1"/>
<line x1="7.4" y1="380.8" x2="233.5" y2="380.8" stroke="#000" stroke-width="1.4" stroke-dasharray="2.1 0.85"/>
<path d="M8.2,406.8 C10,404 11.5,401 12.4,397.6 L13.1,371.6 C13.6,370.8 16.6,372 18.6,374.5 C21.9,376.5 23.2,378.5 23.6,384 C24,398 24.3,406.8 24.5,406.8 C25.3,406.8 27,402 27.8,398.8 L28.5,371.6 C29,370.8 32,372 34,374.5 C37.3,376.5 38.6,378.5 39,384 C39.4,398 39.7,406.8 39.9,406.8 C40.7,406.8 42.5,402 43.5,398.8 L44.3,371.6 C44.8,370.8 47.8,372 49.8,374.5 C52.4,376.5 53.7,378.5 54.1,384 C54.5,398 54.8,406.8 55,406.8" fill="none" stroke="#4c4c4c" stroke-width="1.4" stroke-linejoin="round" stroke-linecap="round" />
<path d="M64.7,405.1 C65.7,402 66.3,399 66.6,396 C66.6,380 66.9,371.4 67.5,371.4 C69,371.4 70.5,374 71.1,380 C71.7,392 72.1,405 72.4,405 C73.5,404 74.2,400 74.6,396 C74.6,380 74.9,371.4 75.5,371.4 C77,371.4 78.5,374 79.1,380 C79.7,392 80.1,405 80.4,405 C81.5,404 82.2,400 82.6,396 C82.6,380 82.9,371.4 83.5,371.4 C85,371.4 86.5,374 87.1,380 C87.7,392 88.1,405 88.4,405 C89.5,404 90.5,400 90.9,396 C90.9,380 91.2,371.4 91.8,371.4 C93.3,371.4 94.8,374 95.4,380 C96,392 96.4,405 96.7,405 C97.8,404 98.8,400 99.2,396 C99.2,380 99.5,371.4 100.1,371.4 C101.6,371.4 103.1,374 103.7,380 C104.3,392 104.7,405 105,405 C106.1,404 107.1,400 107.5,396 C107.5,380 107.8,371.4 108.4,371.4 C109.9,371.4 111.4,374 112,380 C112.6,392 113,405 113.3,405" fill="none" stroke="#4c4c4c" stroke-width="1.4" stroke-linejoin="round" stroke-linecap="round" />
<path d="M118.9,400.4 C125,400 130,400.6 136,400.2 C142,399.9 150,400.3 158,400.1 L162,399.5 L168,400.6" fill="none" stroke="#8a8a8a" stroke-width="1.1" stroke-linejoin="round" stroke-linecap="round" />
<path d="M172.4,400 C175,399.7 178,399.5 179.3,398.6 L180.2,372 C180.6,371.2 181,371.2 181.4,371.4 C184,372.5 185.5,374 186.4,377 C187.2,380 187.4,382 187.8,392 C188,404 188.2,408 188.4,408 C189.5,405 190.5,403.5 191.8,402.8 C195,401.3 197,400.8 199.3,400.5 C205,400.2 208,400.2 210.7,400 C215,399.7 218,399.5 219.9,398.6 L221,372 C221.4,371.2 221.8,371.2 222.2,371.4 C224.5,372.5 225.8,374 226.8,377 C227.5,380 227.8,383 228,392 C228.2,404 228.3,408 228.5,408 C229.8,406 231,404 232.4,402.3" fill="none" stroke="#4c4c4c" stroke-width="1.4" stroke-linejoin="round" stroke-linecap="round" />
<rect x="10.9" y="412.8" width="50.4" height="5" fill="url(#shd)" opacity="0.8"/>
<line x1="10.9" y1="412" x2="61.3" y2="412" stroke="#333" stroke-width="1.6" />
<rect x="65.2" y="412.8" width="46.9" height="5" fill="url(#shd)" opacity="0.8"/>
<line x1="65.2" y1="412" x2="112.1" y2="412" stroke="#333" stroke-width="1.6" />
<rect x="117.9" y="412.8" width="50.3" height="5" fill="url(#shd)" opacity="0.8"/>
<line x1="117.9" y1="412" x2="168.2" y2="412" stroke="#333" stroke-width="1.6" />
<rect x="172.2" y="412.8" width="61.3" height="5" fill="url(#shd)" opacity="0.8"/>
<line x1="172.2" y1="412" x2="233.5" y2="412" stroke="#333" stroke-width="1.6" />
<text x="18.4" y="425.1" font-size="8.4" text-anchor="start" font-weight="bold" fill="#1a1a1a"  stroke="#1a1a1a" stroke-width="0.25">Control</text>
<text x="80.2" y="424.8" font-size="8.4" text-anchor="start" font-weight="bold" fill="#1a1a1a"  stroke="#1a1a1a" stroke-width="0.25">Earl</text>
<text x="85.5" y="435.6" font-size="8.4" text-anchor="start" font-weight="bold" fill="#1a1a1a"  stroke="#1a1a1a" stroke-width="0.25">y</text>
<text x="133.7" y="425.7" font-size="8.4" text-anchor="start" font-weight="bold" fill="#1a1a1a"  stroke="#1a1a1a" stroke-width="0.25">Late</text>
<text x="192.6" y="426.4" font-size="8.4" text-anchor="start" font-weight="bold" fill="#1a1a1a"  stroke="#1a1a1a" stroke-width="0.25">P+HM</text>
<text x="192.7" y="437.4" font-size="8.4" text-anchor="start" font-weight="bold" fill="#1a1a1a"  stroke="#1a1a1a" stroke-width="0.25">R</text>
<text x="113.9" y="441.4" font-size="8.4" text-anchor="start" font-weight="bold" fill="#1a1a1a"  stroke="#1a1a1a" stroke-width="0.25">P</text>
<text x="17" y="438.6" font-size="8.4" text-anchor="start" font-weight="bold" fill="#1a1a1a"  stroke="#1a1a1a" stroke-width="0.25">20 mV</text>
<text x="45.8" y="448.8" font-size="8.4" text-anchor="start" font-weight="bold" fill="#1a1a1a"  stroke="#1a1a1a" stroke-width="0.25">1 s</text>
<line x1="65.2" y1="428.2" x2="168" y2="428.2" stroke="#222" stroke-width="1.6" />
<path d="M45.2,430.9 L45.2,437.9 L61.3,437.9" fill="none" stroke="#222" stroke-width="1.5" stroke-linejoin="round" stroke-linecap="round" />
</svg>
</body></html>
